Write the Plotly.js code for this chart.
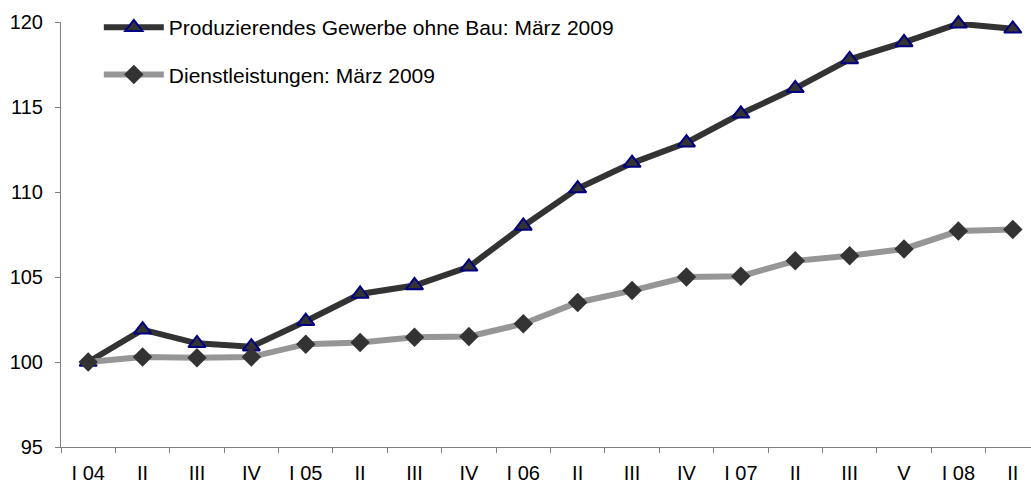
<!DOCTYPE html>
<html><head><meta charset="utf-8">
<script src="https://cdn.plot.ly/plotly-3.0.1.min.js"></script>
<style>html,body{margin:0;padding:0;background:#fff}#chart{width:1031px;height:489px}</style>
</head><body><div id="chart"></div>
<script>
const quarterLabels = ["I 04","II","III","IV","I 05","II","III","IV","I 06","II","III","IV","I 07","II","III","V","I 08","II"];
const produzierend = [100.0,101.9,101.1,100.9,102.4,104.0,104.5,105.6,108.0,110.2,111.7,112.9,114.6,116.1,117.8,118.8,119.9,119.6];
const dienstleistungen = [100.0,100.3,100.25,100.3,101.05,101.15,101.45,101.5,102.25,103.5,104.2,105.0,105.05,105.95,106.25,106.65,107.7,107.8];
const seriesNames = ["Produzierendes Gewerbe ohne Bau: März 2009","Dienstleistungen: März 2009"];

const idx = quarterLabels.map((_, i) => i);
const boundaries = quarterLabels.map((_, i) => i - 0.5);

const traces = [
  {x: idx, y: produzierend, name: seriesNames[0], type: 'scatter', mode: 'lines+markers', legendgroup: 'a',
   line: {color: '#333333', width: 6}, cliponaxis: false,
   marker: {symbol: 'triangle-up', size: 15, color: '#333333', line: {color: '#000080', width: 2}}},
  {x: idx, y: dienstleistungen, name: seriesNames[1], type: 'scatter', mode: 'lines+markers', legendgroup: 'b',
   line: {color: '#969696', width: 6}, cliponaxis: false,
   marker: {symbol: 'diamond', size: 15, color: '#333333', line: {color: '#333333', width: 0}}},
  {x: idx, y: idx.map(() => null), xaxis: 'x2', showlegend: false, hoverinfo: 'skip', type: 'scatter'}
];

const layout = {
  width: 1031, height: 489,
  margin: {l: 61, r: 0, t: 22, b: 42},
  paper_bgcolor: '#fff', plot_bgcolor: '#fff',
  font: {family: 'Liberation Sans, Arial, sans-serif', size: 20, color: '#000'},
  showlegend: true,
  legend: {x: 0.039, y: 1.035, xanchor: 'left', yanchor: 'top', bgcolor: 'rgba(0,0,0,0)',
           traceorder: 'grouped', tracegroupgap: 17, itemwidth: 60, font: {size: 21}},
  xaxis: {range: [-0.5, 17.335], showgrid: false, zeroline: false, showline: true, linecolor: '#808080', linewidth: 1,
          tickmode: 'array', tickvals: boundaries, ticktext: boundaries.map(() => ''),
          ticks: 'outside', ticklen: 5, tickcolor: '#808080', fixedrange: true},
  xaxis2: {overlaying: 'x', matches: 'x', side: 'bottom', showgrid: false, zeroline: false, showline: false,
           tickmode: 'array', tickvals: idx, ticktext: quarterLabels, ticks: 'outside', ticklen: 8,
           tickcolor: 'rgba(0,0,0,0)', tickfont: {size: 20}},
  yaxis: {range: [95, 120], showgrid: false, zeroline: false, showline: true, linecolor: '#808080', linewidth: 1,
          tickvals: [95,100,105,110,115,120], ticks: 'outside', ticklen: 5, tickcolor: '#808080',
          ticklabelstandoff: 8, tickfont: {size: 20}}
};
Plotly.newPlot('chart', traces, layout, {displayModeBar: false, staticPlot: true});
</script></body></html>
